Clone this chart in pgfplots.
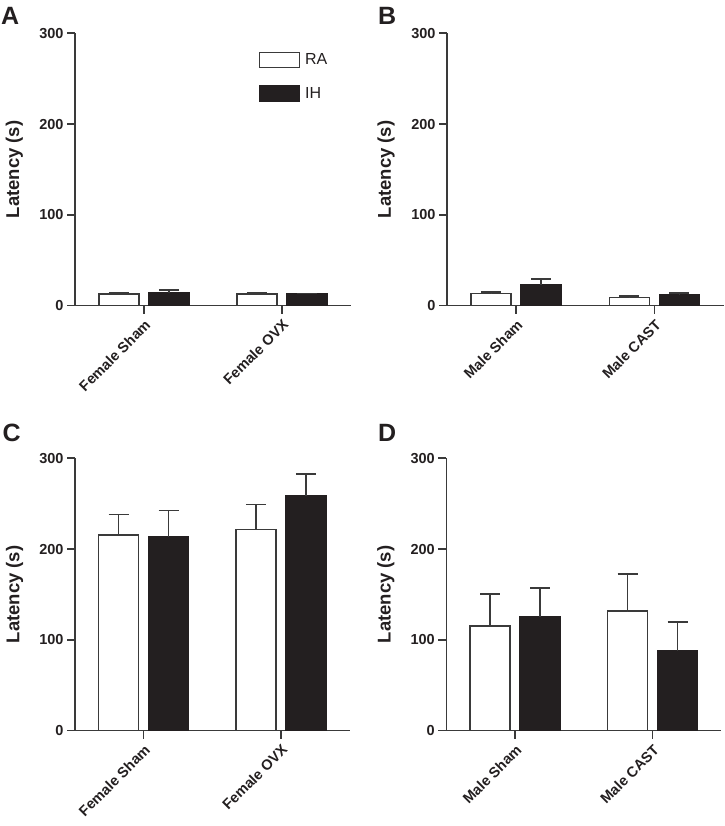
\documentclass[border=0pt]{standalone}
\usepackage{fontspec}
\setmainfont{Liberation Sans}
\usepackage{pgfplots}
\pgfplotsset{compat=1.18}
\definecolor{ink}{HTML}{231F20}
\definecolor{axisc}{HTML}{3A3A3A}

\pgfplotsset{
  panel/.style={
    scale only axis, height=272.5pt,
    xmin=0, xmax=4, ymin=0, ymax=300,
    axis lines=left,
    axis line style={-, line width=1.6pt, draw=axisc},
    x axis line style={shorten <=-8pt},
    xtick={1,3}, ytick={0,100,200,300},
    tick align=outside, major tick length=8pt,
    tick style={line width=1.6pt, draw=axisc},
    /pgf/number format/assume math mode=true,
    tick label style={font=\fontsize{14.5}{17}\selectfont\bfseries, text=ink},
    xticklabel style={rotate=45, anchor=north east},
    ylabel={Latency (s)},
    ylabel style={font=\fontsize{18.5}{22}\selectfont\bfseries, text=ink,
      at={(axis description cs:-0.22,0.5)}, anchor=center},
    ybar=10pt, bar width=40pt,
    clip=false,
    legend image code/.code={\draw[#1, line width=1.6pt] (0pt,-7.5pt) rectangle (40pt,7.5pt);},
  },
  ra/.style={fill=white, draw=axisc, line width=1.6pt,
    error bars/.cd, y dir=plus, y explicit, error mark=|,
    error bar style={line width=1.6pt, draw=axisc},
    error mark options={mark size=10pt, line width=1.6pt, draw=axisc}},
  ih/.style={fill=ink, draw=ink, line width=1.6pt,
    error bars/.cd, y dir=plus, y explicit, error mark=|,
    error bar style={line width=1.6pt, draw=axisc},
    error mark options={mark size=10pt, line width=1.6pt, draw=axisc}},
}

\begin{document}
\begin{tikzpicture}
\useasboundingbox (0,0) rectangle (724pt,826pt);
\tikzset{panellabel/.style={anchor=base west, inner sep=0pt, text=ink, font=\fontsize{25}{28}\selectfont\bfseries}}

% A
\begin{axis}[panel, width=275.7pt, at={(75pt,520.3pt)}, anchor=south west,
  xticklabels={Female Sham, Female OVX},
  legend style={draw=none, fill=none, inner sep=0pt, at={(0.665,0.9325)}, anchor=north west,
    row sep=17pt, /tikz/every odd column/.append style={column sep=5pt},
    nodes={inner sep=0pt, font=\fontsize{16}{19}\selectfont, text=ink}},
  legend cell align=left]
\addplot[ra] coordinates {(1,12.9) +- (0,1.4) (3,12.9) +- (0,1.7)};
\addplot[ih] coordinates {(1,14.3) +- (0,3.3) (3,12.9) +- (0,0.7)};
\legend{RA, IH}
\end{axis}

% B
\begin{axis}[panel, width=276.5pt, at={(447pt,520.3pt)}, anchor=south west,
  xticklabels={Male Sham, Male CAST}]
\addplot[ra] coordinates {(1,13.5) +- (0,1.9) (3,9.1) +- (0,1.5)};
\addplot[ih] coordinates {(1,23.1) +- (0,6.6) (3,12.1) +- (0,1.8)};
\end{axis}

% C
\begin{axis}[panel, width=274.5pt, at={(75pt,95.3pt)}, anchor=south west,
  xticklabels={Female Sham, Female OVX}]
\addplot[ra] coordinates {(1,215.4) +- (0,22.7) (3,221.3) +- (0,27.8)};
\addplot[ih] coordinates {(1,213.2) +- (0,29.3) (3,258.7) +- (0,24.2)};
\end{axis}

% D
\begin{axis}[panel, width=275pt, at={(446.3pt,95.3pt)}, anchor=south west,
  xticklabels={Male Sham, Male CAST}]
\addplot[ra] coordinates {(1,115.4) +- (0,35.1) (3,131.5) +- (0,41.0)};
\addplot[ih] coordinates {(1,125.3) +- (0,31.8) (3,87.6) +- (0,32.2)};
\end{axis}

\node[panellabel] at (1pt,801pt) {A};
\node[panellabel] at (378pt,801pt) {B};
\node[panellabel] at (2.5pt,384pt) {C};
\node[panellabel] at (378pt,384pt) {D};
\end{tikzpicture}
\end{document}
